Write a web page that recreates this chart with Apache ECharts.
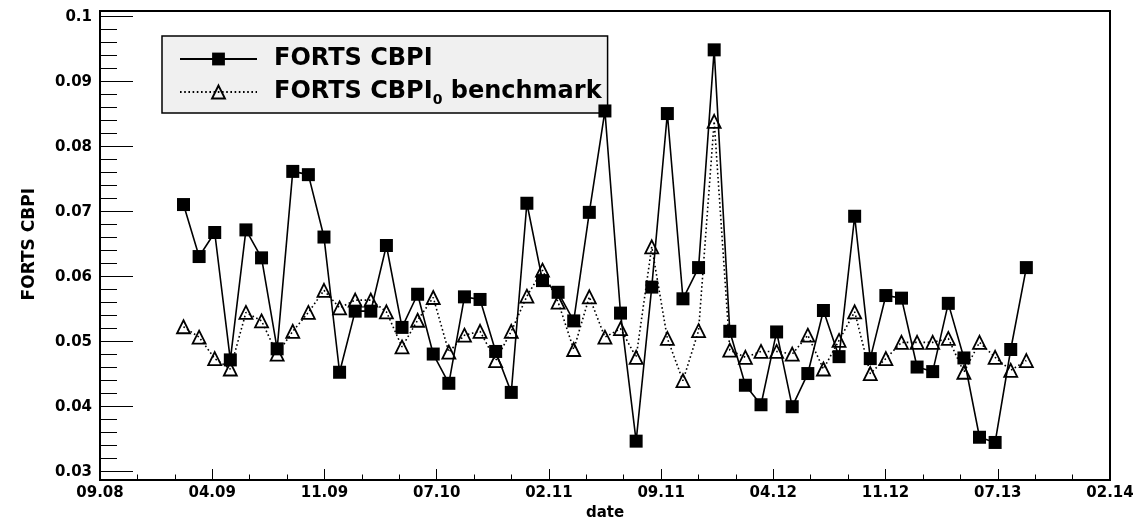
<!DOCTYPE html>
<html>
<head>
<meta charset="utf-8">
<script src="https://cdn.jsdelivr.net/npm/echarts@6/dist/echarts.min.js"></script>
<style>
html,body{margin:0;padding:0;background:#fff;}
#chart{width:1145px;height:526px;}
</style>
</head>
<body>
<div id="chart"></div>
<script>
// ---- data ----
const dates = ['2009-02','2009-03','2009-04','2009-05','2009-06','2009-07','2009-08','2009-09','2009-10','2009-11','2009-12',
  '2010-01','2010-02','2010-03','2010-04','2010-05','2010-06','2010-07','2010-08','2010-09','2010-10','2010-11','2010-12',
  '2011-01','2011-02','2011-03','2011-04','2011-05','2011-06','2011-07','2011-08','2011-09','2011-10','2011-11','2011-12',
  '2012-01','2012-02','2012-03','2012-04','2012-05','2012-06','2012-07','2012-08','2012-09','2012-10','2012-11','2012-12',
  '2013-01','2013-02','2013-03','2013-04','2013-05','2013-06','2013-07','2013-08'];
const cbpi = [0.0711,0.0631,0.0668,0.0472,0.0672,0.0629,0.0489,0.0762,0.0757,0.0661,0.0453,
  0.0547,0.0547,0.0648,0.0522,0.0573,0.0481,0.0436,0.0569,0.0565,0.0485,0.0422,0.0713,
  0.0594,0.0576,0.0532,0.0699,0.0855,0.0544,0.0347,0.0584,0.0851,0.0566,0.0614,0.0949,
  0.0516,0.0433,0.0403,0.0515,0.0400,0.0451,0.0548,0.0477,0.0693,0.0474,0.0571,0.0567,
  0.0461,0.0454,0.0559,0.0475,0.0353,0.0345,0.0488,0.0614];
const bench = [0.0523,0.0507,0.0474,0.0458,0.0545,0.0532,0.0481,0.0516,0.0545,0.0579,0.0552,
  0.0564,0.0564,0.0546,0.0492,0.0533,0.0568,0.0484,0.0510,0.0516,0.0471,0.0516,0.0570,
  0.0610,0.0561,0.0488,0.0569,0.0507,0.0520,0.0476,0.0646,0.0505,0.0440,0.0517,0.0839,
  0.0487,0.0476,0.0485,0.0485,0.0481,0.0510,0.0458,0.0502,0.0546,0.0451,0.0474,0.0499,
  0.0499,0.0499,0.0505,0.0453,0.0499,0.0476,0.0456,0.0471];
const xTickLabels = ['09.08','04.09','11.09','07.10','02.11','09.11','04.12','11.12','07.13','02.14'];
const seriesNames = ['FORTS CBPI', 'FORTS CBPI0 benchmark'];

// ---- axis geometry (time -> axis units) ----
const AXIS_START = {year: 2008, month: 9};
const MONTHS_PER_DIV = 7.19;
const DAY_OFFSET = 0.35;
function toX(d) {
  const p = d.split('-').map(Number);
  return ((p[0] - AXIS_START.year) * 12 + (p[1] - AXIS_START.month) + DAY_OFFSET) / MONTHS_PER_DIV;
}
const cbpiData = dates.map((d, i) => [toX(d), cbpi[i]]);
const benchData = dates.map((d, i) => [toX(d), bench[i]]);

const FONT = 'DejaVu Sans';
const chart = echarts.init(document.getElementById('chart'));
chart.setOption({
  animation: false,
  backgroundColor: '#ffffff',
  grid: {left: 100, right: 35, top: 16.7, bottom: 54.3},
  xAxis: {
    type: 'value', min: 0, max: 9, interval: 1,
    offset: 8.3,
    name: 'date', nameLocation: 'middle', nameGap: 24,
    nameTextStyle: {fontFamily: FONT, fontWeight: 'bold', fontSize: 15, color: '#000'},
    axisLine: {show: false},
    axisTick: {show: true, inside: true, length: 11, lineStyle: {color: '#000', width: 1}},
    minorTick: {show: true, splitNumber: 3, length: 5.5, lineStyle: {color: '#000', width: 1}},
    splitLine: {show: false},
    axisLabel: {
      fontFamily: FONT, fontWeight: 'bold', fontSize: 15, color: '#000', margin: 6,
      showMinLabel: true, showMaxLabel: true,
      formatter: v => xTickLabels[Math.round(v)] || ''
    }
  },
  yAxis: {
    type: 'value', min: 0.03, max: 0.1, interval: 0.01,
    name: 'FORTS CBPI', nameLocation: 'middle', nameGap: 62,
    nameTextStyle: {fontFamily: FONT, fontWeight: 'bold', fontSize: 17, color: '#000'},
    axisLine: {show: false},
    axisTick: {show: true, inside: true, length: 33, lineStyle: {color: '#000', width: 1}},
    minorTick: {show: true, splitNumber: 5, length: 17, lineStyle: {color: '#000', width: 1}},
    splitLine: {show: false},
    axisLabel: {
      fontFamily: FONT, fontWeight: 'bold', fontSize: 15, color: '#000', margin: 8,
      formatter: v => String(+v.toFixed(2))
    }
  },
  legend: {
    orient: 'vertical', left: 162, top: 36,
    padding: [11, 6, 6, 17],
    itemWidth: 77, itemHeight: 16, itemGap: 9,
    backgroundColor: '#f0f0f0', borderColor: '#000', borderWidth: 1.5, borderRadius: 0,
    data: seriesNames,
    textStyle: {fontFamily: FONT, fontWeight: 'bold', fontSize: 24, color: '#000', padding: [0, 0, 0, 12],
      rich: {
        a: {fontFamily: FONT, fontWeight: 'bold', fontSize: 24, lineHeight: 30, color: '#000'},
        s: {fontFamily: FONT, fontWeight: 'bold', fontSize: 14, lineHeight: 10, verticalAlign: 'bottom', color: '#000'}
      }
    },
    formatter: name => name === seriesNames[1]
      ? '{a|FORTS CBPI}{s|0}{a| benchmark}'
      : '{a|' + name + '}'
  },
  graphic: [{
    type: 'rect', z: 100, silent: true,
    shape: {x: 100, y: 11, width: 1010, height: 469},
    style: {fill: 'none', stroke: '#000', lineWidth: 2}
  }],
  series: [
    {
      name: seriesNames[0], type: 'line', data: cbpiData, z: 4,
      symbol: 'rect', symbolSize: 13,
      itemStyle: {color: '#000', borderColor: '#000', borderWidth: 0},
      lineStyle: {color: '#000', width: 1.6, type: 'solid'},
      emphasis: {disabled: true}, silent: true
    },
    {
      name: seriesNames[1], type: 'line', data: benchData, z: 3,
      symbol: 'triangle', symbolSize: 13,
      itemStyle: {color: 'transparent', borderColor: '#000', borderWidth: 1.8},
      lineStyle: {color: '#000', width: 1.6, type: [1.6, 2.6]},
      emphasis: {disabled: true}, silent: true
    }
  ]
});
</script>
</body>
</html>
